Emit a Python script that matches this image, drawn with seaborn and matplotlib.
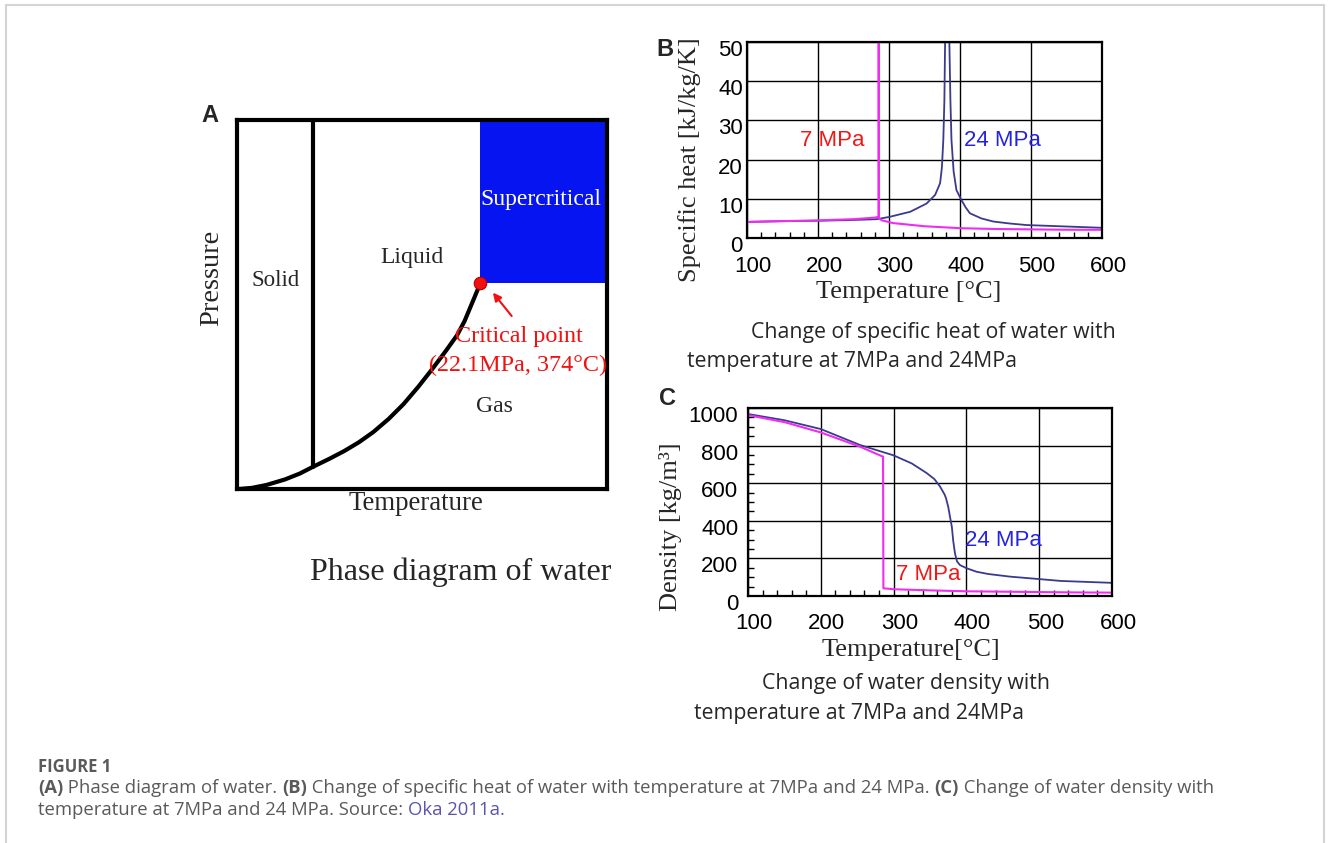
import matplotlib
matplotlib.use("Agg")
import matplotlib.pyplot as plt
import matplotlib.transforms as mtransforms
from matplotlib.patches import Rectangle
from matplotlib.ticker import MultipleLocator
import seaborn as sns

# ---- panel B: specific heat [kJ/kg/K] vs temperature [C]
cp_temp_24 = [100, 150, 200, 250, 283, 301, 330, 353, 365, 372, 374.5, 376.5, 378, 379, 380.5,
              383.5, 385, 386.5, 388, 391, 395, 402, 408, 414, 430, 447, 470, 494, 540, 600]
cp_24 = [4.1, 4.3, 4.4, 4.6, 4.8, 5.4, 6.7, 8.8, 11, 14, 18, 25, 35, 50, 80,
         80, 50, 35, 25, 17, 12.2, 9.7, 7.8, 6.3, 5.0, 4.2, 3.7, 3.3, 3.0, 2.6]
cp_temp_7 = [100, 150, 200, 250, 280, 285.2, 285.5, 285.9, 290, 306, 350, 400, 450, 500, 550, 600]
cp_7 = [4.1, 4.3, 4.5, 4.8, 5.2, 5.4, 80, 5.0, 4.5, 3.8, 3.0, 2.5, 2.3, 2.2, 2.1, 2.1]

# ---- panel C: density [kg/m3] vs temperature [C]
d_temp_24 = [100, 150, 200, 254, 300, 325, 345, 356, 364, 370, 372, 375, 378, 380, 382, 384.3,
             387, 391, 400, 414, 430, 460, 500, 530, 600]
d_24 = [968, 935, 888, 803, 748, 705, 655, 622, 581, 540, 520, 475, 410, 368, 290, 227,
        185, 165, 148, 129, 117, 103, 90, 80, 70]
d_temp_7 = [100, 150, 200, 254, 285.5, 286, 300, 350, 400, 450, 500, 550, 600]
d_7 = [962, 925, 870, 794, 741, 41, 36, 30, 25, 23, 21, 19, 18]

# ---- panel A: schematic phase diagram (axes fraction units)
solid_x, solid_bottom = 0.205, 0.06
curve_x = [0.005, 0.04, 0.08, 0.13, 0.17, 0.205, 0.25, 0.29, 0.33, 0.368, 0.41, 0.45, 0.49,
           0.53, 0.565, 0.595, 0.615, 0.635, 0.657]
curve_y = [0.0, 0.003, 0.011, 0.026, 0.042, 0.060, 0.082, 0.103, 0.127, 0.154, 0.19, 0.23, 0.277,
           0.328, 0.375, 0.417, 0.455, 0.503, 0.556]
crit_t, crit_p = 0.657, 0.558

MAG = "#f02cf0"
NAVY = "#3a3a8e"

sns.set_theme(style="white")
plt.rcParams["font.family"] = ["Liberation Sans", "DejaVu Sans"]

W, H = 1330, 843
fig = plt.figure(figsize=(W / 100, H / 100), dpi=100)


def px(x, y):
    return x / W, 1 - y / H


SERIF = ["Liberation Serif", "DejaVu Serif"]
CAPF = ["Open Sans", "DejaVu Sans"]

# light frame around the whole figure
fig.add_artist(Rectangle((6 / W, -0.1), (1324 - 6) / W, 1.1 - 5 / H, transform=fig.transFigure,
                         fill=False, edgecolor="#d4d4d4", lw=1.5))

# ================= panel A
axA = fig.add_axes([237 / W, 1 - 489 / H, 370 / W, 369 / H])
axA.set_xlim(0, 1)
axA.set_ylim(0, 1)
axA.fill_between([crit_t, 1], crit_p, 1, color="#0714f2", lw=0)
sns.lineplot(x=curve_x, y=curve_y, ax=axA, color="black", lw=3, sort=False, estimator=None)
axA.plot([solid_x, solid_x], [solid_bottom, 1], color="black", lw=3)
axA.plot([crit_t], [crit_p], "o", color="#f21010", markersize=9, mec="#b00000", mew=0.8, zorder=5)
axA.annotate("", xy=(crit_t + 0.03, crit_p - 0.02), xytext=(crit_t + 0.09, crit_p - 0.095),
             arrowprops=dict(arrowstyle="-|>", color="#f21010", lw=1.5, mutation_scale=12))
axA.set_xticks([])
axA.set_yticks([])
for s in axA.spines.values():
    s.set_linewidth(3)
    s.set_color("black")

fig.text(*px(210, 115), "A", fontsize=17, fontweight="bold", ha="center", va="center")
fig.text(*px(212, 278), "Pressure", family=SERIF, fontsize=20.5, rotation=90, ha="center", va="center")
fig.text(*px(276, 280), "Solid", family=SERIF, fontsize=16.5, ha="center", va="center")
fig.text(*px(412, 258), "Liquid", family=SERIF, fontsize=17, ha="center", va="center")
fig.text(*px(541, 199), "Supercritical", family=SERIF, fontsize=17, color="white", ha="center", va="center")
fig.text(*px(519, 337), "Critical point", family=SERIF, fontsize=17.4, color="#f21010", ha="center", va="center")
fig.text(*px(518, 365), "(22.1MPa, 374°C)", family=SERIF, fontsize=17.4, color="#f21010", ha="center", va="center")
fig.text(*px(494, 407), "Gas", family=SERIF, fontsize=17, ha="center", va="center")
fig.text(*px(416, 504), "Temperature", family=SERIF, fontsize=19.4, ha="center", va="center")
fig.text(*px(461, 572), "Phase diagram of water", family=SERIF, fontsize=23, ha="center", va="center")


def style_chart(ax, ylim, ystep, ypad, xpad, minor_y=None):
    ax.set_xlim(100, 600)
    ax.set_ylim(*ylim)
    ax.set_xticks(range(100, 601, 100))
    ax.set_yticks(range(ylim[0], ylim[1] + 1, ystep))
    ax.grid(True, color="black", lw=1)
    ax.set_axisbelow(True)
    ax.set_xlabel("")
    ax.set_ylabel("")
    for s in ax.spines.values():
        s.set_linewidth(1.6)
        s.set_color("black")
    ax.tick_params(axis="x", which="major", length=0, labelsize=16, pad=xpad, colors="black")
    ax.tick_params(axis="y", which="major", length=0, labelsize=16, pad=ypad, colors="black")
    ax.xaxis.set_minor_locator(MultipleLocator(20))
    ax.tick_params(axis="x", which="minor", direction="in", length=4, width=1, bottom=True, color="black")
    if minor_y:
        ax.yaxis.set_minor_locator(MultipleLocator(minor_y))
        ax.tick_params(axis="y", which="minor", direction="in", length=4, width=1, left=True, color="black")
    dx = mtransforms.ScaledTranslation(6 / 100, 0, fig.dpi_scale_trans)
    for lab in ax.get_xticklabels():
        lab.set_transform(lab.get_transform() + dx)
    dy = mtransforms.ScaledTranslation(0, -6 / 100, fig.dpi_scale_trans)
    for lab in ax.get_yticklabels():
        lab.set_transform(lab.get_transform() + dy)


# ================= panel B
axB = fig.add_axes([747 / W, 1 - 238 / H, 355 / W, 196 / H])
sns.lineplot(x=cp_temp_24, y=cp_24, ax=axB, color=NAVY, lw=1.3, sort=False, estimator=None)
sns.lineplot(x=cp_temp_7, y=cp_7, ax=axB, color=MAG, lw=1.5, sort=False, estimator=None)
style_chart(axB, (0, 50), 10, ypad=3, xpad=13)
fig.text(*px(665, 49), "B", fontsize=17, fontweight="bold", ha="center", va="center")
fig.text(*px(690, 160), "Specific heat [kJ/kg/K]", family=SERIF, fontsize=19, rotation=90, ha="center", va="center")
fig.text(*px(909, 292), "Temperature [°C]", family=SERIF, fontsize=19, ha="center", va="center")
fig.text(*px(832, 140), "7 MPa", fontsize=16, color="#f01818", ha="center", va="center")
fig.text(*px(1002, 140), "24 MPa", fontsize=16, color="#2424e0", ha="center", va="center")
fig.text(*px(751, 333), "Change of specific heat of water with", family=CAPF, fontsize=15.3, ha="left", va="center")
fig.text(*px(687, 362), "temperature at 7MPa and 24MPa", family=CAPF, fontsize=15.3, ha="left", va="center")

# ================= panel C
axC = fig.add_axes([748 / W, 1 - 596 / H, 364 / W, 188 / H])
sns.lineplot(x=d_temp_24, y=d_24, ax=axC, color=NAVY, lw=1.3, sort=False, estimator=None)
sns.lineplot(x=d_temp_7, y=d_7, ax=axC, color=MAG, lw=1.5, sort=False, estimator=None)
style_chart(axC, (0, 1000), 200, ypad=7, xpad=12.5, minor_y=50)
fig.text(*px(668, 398), "C", fontsize=17, fontweight="bold", ha="center", va="center")
fig.text(*px(670, 527), "Density [kg/m³]", family=SERIF, fontsize=19, rotation=90, ha="center", va="center")
fig.text(*px(911, 650), "Temperature[°C]", family=SERIF, fontsize=19, ha="center", va="center")
fig.text(*px(1003, 540), "24 MPa", fontsize=16, color="#2424e0", ha="center", va="center")
fig.text(*px(928, 574), "7 MPa", fontsize=16, color="#f01818", ha="center", va="center")
fig.text(*px(762, 684), "Change of water density with", family=CAPF, fontsize=15.3, ha="left", va="center")
fig.text(*px(694, 713), "temperature at 7MPa and 24MPa", family=CAPF, fontsize=15.3, ha="left", va="center")

# ================= figure caption
cap_ax = fig.add_axes([0, 0, 1, 1])
cap_ax.set_axis_off()
GREY = "#5a5a5a"
CAP_SIZE = 13.3
fig.text(*px(38, 767), "FIGURE 1", family=CAPF, fontsize=12, fontweight="bold", color=GREY,
         ha="left", va="center")


def text_run(pieces, x, y):
    prev = fig.text(*px(x, y), pieces[0][0], family=CAPF, fontsize=CAP_SIZE, fontweight=pieces[0][1],
                    color=pieces[0][2], ha="left", va="center")
    for s, weight, color in pieces[1:]:
        prev = cap_ax.annotate(s, xy=(1, 0), xycoords=prev, ha="left", va="bottom", family=CAPF,
                               fontsize=CAP_SIZE, fontweight=weight, color=color)


text_run([("(A)", "bold", GREY), (" Phase diagram of water. ", "normal", GREY), ("(B)", "bold", GREY),
          (" Change of specific heat of water with temperature at 7MPa and 24 MPa. ", "normal", GREY),
          ("(C)", "bold", GREY), (" Change of water density with", "normal", GREY)], 38, 788)
text_run([("temperature at 7MPa and 24 MPa. Source: ", "normal", GREY), ("Oka 2011a.", "normal", "#5a55b0")], 38, 810)

fig.savefig("out.png", dpi=100)
